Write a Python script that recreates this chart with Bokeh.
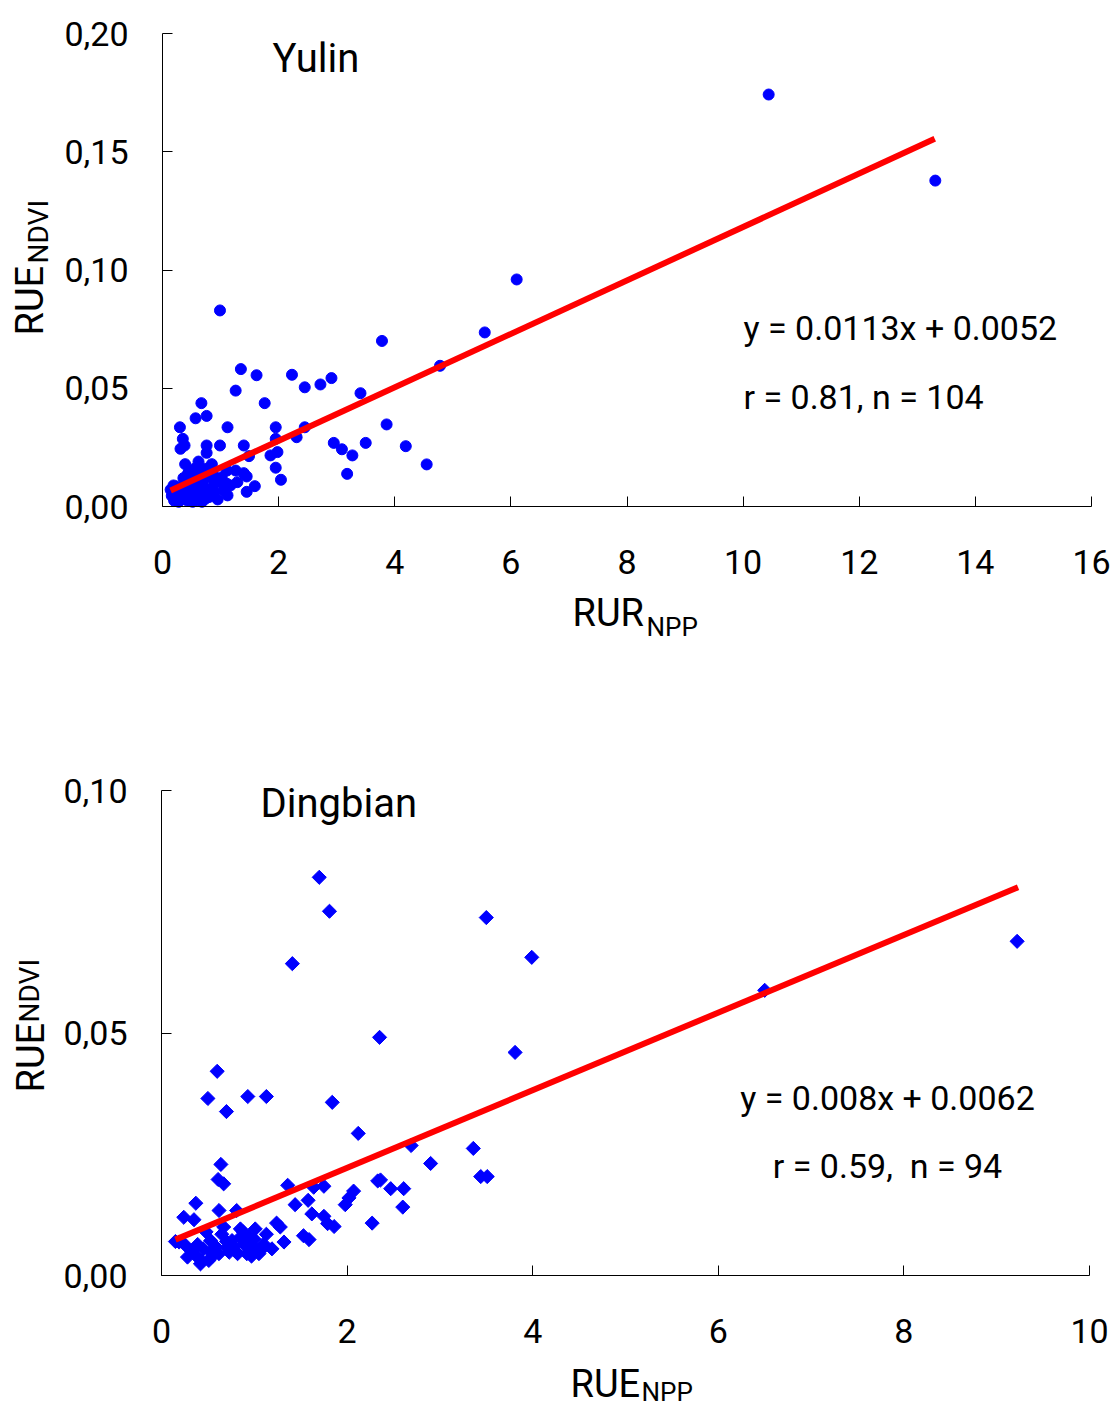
import numpy as np
from bokeh.plotting import figure
from bokeh.layouts import column
from bokeh.models import Range1d, FixedTicker, CustomJSTickFormatter, Label, LinearAxis
from bokeh.embed import file_html
from bokeh.resources import INLINE

FONT = "Roboto"

# ---------------- data: Yulin ----------------
yulin_x = [10.44, 13.31, 6.10, 5.55, 4.78, 3.78, 3.41, 3.86, 4.55, 4.19,
           3.50, 3.27, 3.09, 2.95, 3.18, 2.23, 2.45, 2.72, 2.91, 2.45,
           2.31, 0.99, 1.35, 1.62, 1.26, 0.67, 1.76, 0.57, 0.76, 0.30,
           1.12, 1.95, 0.35, 0.31, 0.38, 0.76, 0.76, 0.99, 1.40, 1.49,
           1.95, 1.98, 1.86, 1.95, 2.04, 0.39, 0.62, 0.85, 1.26, 1.40,
           1.45, 1.11, 1.02, 1.11, 1.59, 1.45, 1.12, 0.19, 0.14, 0.22,
           0.37, 0.48, 0.54, 0.60, 0.65, 0.71, 0.77, 0.83, 0.88, 0.43,
           0.57, 0.74, 0.31, 0.51, 0.65, 0.83, 1.06, 1.17, 1.29, 0.16,
           0.26, 0.28, 0.33, 0.40, 0.45, 0.50, 0.52, 0.58, 0.62, 0.68,
           0.70, 0.80, 0.90, 0.92, 0.36, 0.44, 0.24, 0.20, 0.95, 1.00,
           0.55, 0.72, 0.18, 0.86]
yulin_y = [0.1742, 0.1378, 0.0960, 0.0736, 0.0595, 0.0700, 0.0479, 0.0347, 0.0178, 0.0255,
           0.0269, 0.0216, 0.0242, 0.0269, 0.0138, 0.0557, 0.0504, 0.0516, 0.0543, 0.0335,
           0.0293, 0.0829, 0.0581, 0.0555, 0.0490, 0.0437, 0.0437, 0.0373, 0.0383, 0.0335,
           0.0335, 0.0335, 0.0286, 0.0244, 0.0258, 0.0258, 0.0227, 0.0258, 0.0258, 0.0213,
           0.0286, 0.0230, 0.0216, 0.0164, 0.0113, 0.0179, 0.0190, 0.0179, 0.0152, 0.0141,
           0.0127, 0.0152, 0.0124, 0.0096, 0.0086, 0.0062, 0.0047, 0.0089, 0.0071, 0.0033,
           0.0068, 0.0103, 0.0068, 0.0096, 0.0039, 0.0082, 0.0068, 0.0054, 0.0089, 0.0025,
           0.0025, 0.0033, 0.0054, 0.0145, 0.0131, 0.0124, 0.0068, 0.0089, 0.0103, 0.0045,
           0.0060, 0.0020, 0.0080, 0.0040, 0.0075, 0.0050, 0.0020, 0.0110, 0.0060, 0.0020,
           0.0110, 0.0040, 0.0060, 0.0120, 0.0120, 0.0140, 0.0085, 0.0025, 0.0030, 0.0105,
           0.0160, 0.0160, 0.0065, 0.0150]
yulin_slope, yulin_icpt = 0.0113, 0.0052
yulin_fit_x = [0.14, 13.3]
yulin_xticks = [0, 2, 4, 6, 8, 10, 12, 14, 16]
yulin_xlabels = ["0", "2", "4", "6", "8", "10", "12", "14", "16"]
yulin_yticks = [0.0, 0.05, 0.10, 0.15, 0.20]
yulin_ylabels = ["0,00", "0,05", "0,10", "0,15", "0,20"]

# ---------------- data: Dingbian ----------------
ding_x = [1.70, 1.81, 1.41, 3.50, 3.99, 9.22, 6.50, 2.35, 3.81, 0.60,
          0.50, 0.70, 0.93, 1.13, 1.84, 2.12, 2.69, 3.36, 2.90, 3.44,
          3.51, 0.64, 0.61, 0.67, 1.36, 1.64, 1.75, 2.36, 2.07, 2.02,
          1.98, 2.47, 2.61, 2.60, 2.27, 1.44, 1.58, 1.62, 1.75, 1.79,
          1.86, 1.24, 1.32, 1.53, 1.59, 0.37, 0.24, 0.35, 0.62, 0.81,
          0.67, 0.85, 1.01, 1.13, 0.19, 0.26, 0.39, 0.53, 0.28, 0.37,
          0.42, 0.51, 0.53, 0.71, 0.82, 0.89, 0.92, 0.96, 0.76, 0.85,
          1.07, 1.19, 0.73, 0.99, 0.45, 0.58, 0.65, 0.78, 0.88, 1.00,
          1.05, 0.48, 0.33, 0.62, 0.70, 0.94, 1.10, 0.80, 0.55, 0.44,
          1.28, 0.15, 2.33, 0.97]
ding_y = [0.0821, 0.0751, 0.0643, 0.0738, 0.0656, 0.0689, 0.0588, 0.0491, 0.0460, 0.0421,
          0.0365, 0.0338, 0.0369, 0.0369, 0.0357, 0.0293, 0.0268, 0.0262, 0.0231, 0.0204,
          0.0204, 0.0229, 0.0198, 0.0189, 0.0186, 0.0182, 0.0184, 0.0197, 0.0174, 0.0160,
          0.0146, 0.0179, 0.0179, 0.0141, 0.0108, 0.0146, 0.0155, 0.0127, 0.0122, 0.0107,
          0.0101, 0.0108, 0.0069, 0.0082, 0.0074, 0.0149, 0.0120, 0.0115, 0.0134, 0.0134,
          0.0100, 0.0096, 0.0096, 0.0085, 0.0069, 0.0062, 0.0064, 0.0072, 0.0038, 0.0041,
          0.0024, 0.0031, 0.0048, 0.0058, 0.0045, 0.0065, 0.0045, 0.0065, 0.0072, 0.0079,
          0.0052, 0.0055, 0.0048, 0.0058, 0.0055, 0.0060, 0.0085, 0.0060, 0.0090, 0.0075,
          0.0045, 0.0090, 0.0050, 0.0045, 0.0070, 0.0080, 0.0065, 0.0050, 0.0040, 0.0030,
          0.0100, 0.0070, 0.0195, 0.0040]
ding_slope, ding_icpt = 0.008, 0.0062
ding_fit_x = [0.15, 9.23]
ding_xticks = [0, 2, 4, 6, 8, 10]
ding_xlabels = ["0", "2", "4", "6", "8", "10"]
ding_yticks = [0.0, 0.05, 0.10]
ding_ylabels = ["0,00", "0,05", "0,10"]

W = 1114
K = 0.355  # baseline correction factor (fraction of font size)


def fmt(tv, lv):
    return CustomJSTickFormatter(args=dict(tv=tv, lv=lv), code="""
        for (let i = 0; i < tv.length; i++) {
            if (Math.abs(tv[i] - tick) < 1e-9) return lv[i];
        }
        return "";
    """)


def make_fig(H, xr, yr, px_left, px_right, py_top, py_bottom):
    # frame fills the whole figure; ranges chosen so the axis box sits at the given pixels
    xs = (xr[1] - xr[0]) / (px_right - px_left)
    ys = (yr[1] - yr[0]) / (py_bottom - py_top)
    x_range = Range1d(xr[0] - px_left * xs, xr[1] + (W - px_right) * xs)
    y_range = Range1d(yr[0] - (H - py_bottom) * ys, yr[1] + py_top * ys)
    p = figure(width=W, height=H, output_backend="svg", toolbar_location=None,
               x_range=x_range, y_range=y_range, x_axis_location=None, y_axis_location=None,
               min_border=0, min_border_left=0, min_border_right=0,
               min_border_top=0, min_border_bottom=0)
    p.outline_line_color = None
    p.grid.visible = False
    p.background_fill_color = "white"
    p.border_fill_color = "white"
    return p


def add_axes(p, xr, yr, xticks, xlabels, yticks, ylabels):
    xa = LinearAxis(fixed_location=yr[0], bounds=(xr[0], xr[1]),
                    ticker=FixedTicker(ticks=xticks), formatter=fmt(xticks, xlabels))
    ya = LinearAxis(fixed_location=xr[0], bounds=(yr[0], yr[1]),
                    ticker=FixedTicker(ticks=yticks), formatter=fmt(yticks, ylabels))
    for ax in (xa, ya):
        ax.axis_line_color = "black"
        ax.axis_line_width = 1
        ax.major_tick_line_color = "black"
        ax.major_tick_in = 10
        ax.major_tick_out = 0
        ax.minor_tick_line_color = None
        ax.major_label_text_font = FONT
        ax.major_label_text_font_size = "34px"
        ax.major_label_text_color = "black"
    xa.major_label_standoff = 43
    ya.major_label_standoff = 34
    p.add_layout(xa, "below")
    p.add_layout(ya, "left")


def add_text(p, H, x, base_y, text, size):
    # horizontal text; base_y = baseline row within the figure (pixels from top)
    p.add_layout(Label(x=x, y=H - base_y + K * size, x_units="screen", y_units="screen",
                       text=text, text_font=FONT, text_font_size=f"{size}px",
                       text_color="black", text_align="left", text_baseline="alphabetic"))


def add_center_text(p, H, x, base_y, text, size):
    p.add_layout(Label(x=x, y=H - base_y + K * size, x_units="screen", y_units="screen",
                       text=text, text_font=FONT, text_font_size=f"{size}px",
                       text_color="black", text_align="center", text_baseline="alphabetic"))


def add_vtext(p, H, base_x, start_y, text, size):
    # text rotated 90 deg, reading upward; base_x = baseline column, start_y = lower end row
    p.add_layout(Label(x=base_x - K * size, y=H - start_y, x_units="screen", y_units="screen",
                       text=text, text_font=FONT, text_font_size=f"{size}px",
                       text_color="black", text_align="left", text_baseline="alphabetic",
                       angle=np.pi / 2))


# ---------------- top figure (page rows 0..700) ----------------
H1 = 700
xr1, yr1 = (0, 16), (0, 0.2)
p1 = make_fig(H1, xr1, yr1, 162, 1091, 33, 506)
add_axes(p1, xr1, yr1, yulin_xticks, yulin_xlabels, yulin_yticks, yulin_ylabels)
p1.scatter(yulin_x, yulin_y, size=11, marker="circle", color="#0000ff")
fy1 = [yulin_slope * v + yulin_icpt for v in yulin_fit_x]
p1.line(yulin_fit_x, fy1, line_color="#ff0000", line_width=6)
add_text(p1, H1, 272, 72, "Yulin", 40)
add_text(p1, H1, 743, 340, "y = 0.0113x + 0.0052", 34)
add_text(p1, H1, 743, 409, "r = 0.81, n = 104", 34)
add_text(p1, H1, 572, 626, "RUR", 38)
add_text(p1, H1, 646, 636, "NPP", 26)
add_vtext(p1, H1, 43, 335, "RUE", 38)
add_vtext(p1, H1, 48, 263, "NDVI", 28)

# ---------------- bottom figure (page rows 700..1410) ----------------
H2 = 710
xr2, yr2 = (0, 10), (0, 0.1)
p2 = make_fig(H2, xr2, yr2, 161, 1089, 90, 575)
add_axes(p2, xr2, yr2, ding_xticks, ding_xlabels, ding_yticks, ding_ylabels)
p2.scatter(ding_x, ding_y, size=10, marker="square", angle=np.pi / 4, color="#0000ff")
fy2 = [ding_slope * v + ding_icpt for v in ding_fit_x]
p2.line(ding_fit_x, fy2, line_color="#ff0000", line_width=6)
add_text(p2, H2, 260, 117, "Dingbian", 40)
add_center_text(p2, H2, 887, 410, "y = 0.008x + 0.0062", 34)
add_center_text(p2, H2, 887, 478, "r = 0.59,\u00a0 n = 94", 34)
add_text(p2, H2, 570, 697, "RUE", 38)
add_text(p2, H2, 641, 701, "NPP", 26)
add_vtext(p2, H2, 44, 392, "RUE", 38)
add_vtext(p2, H2, 39, 322, "NDVI", 28)

layout = column(p1, p2, spacing=0)
open("out.html", "w").write(file_html(layout, INLINE))
